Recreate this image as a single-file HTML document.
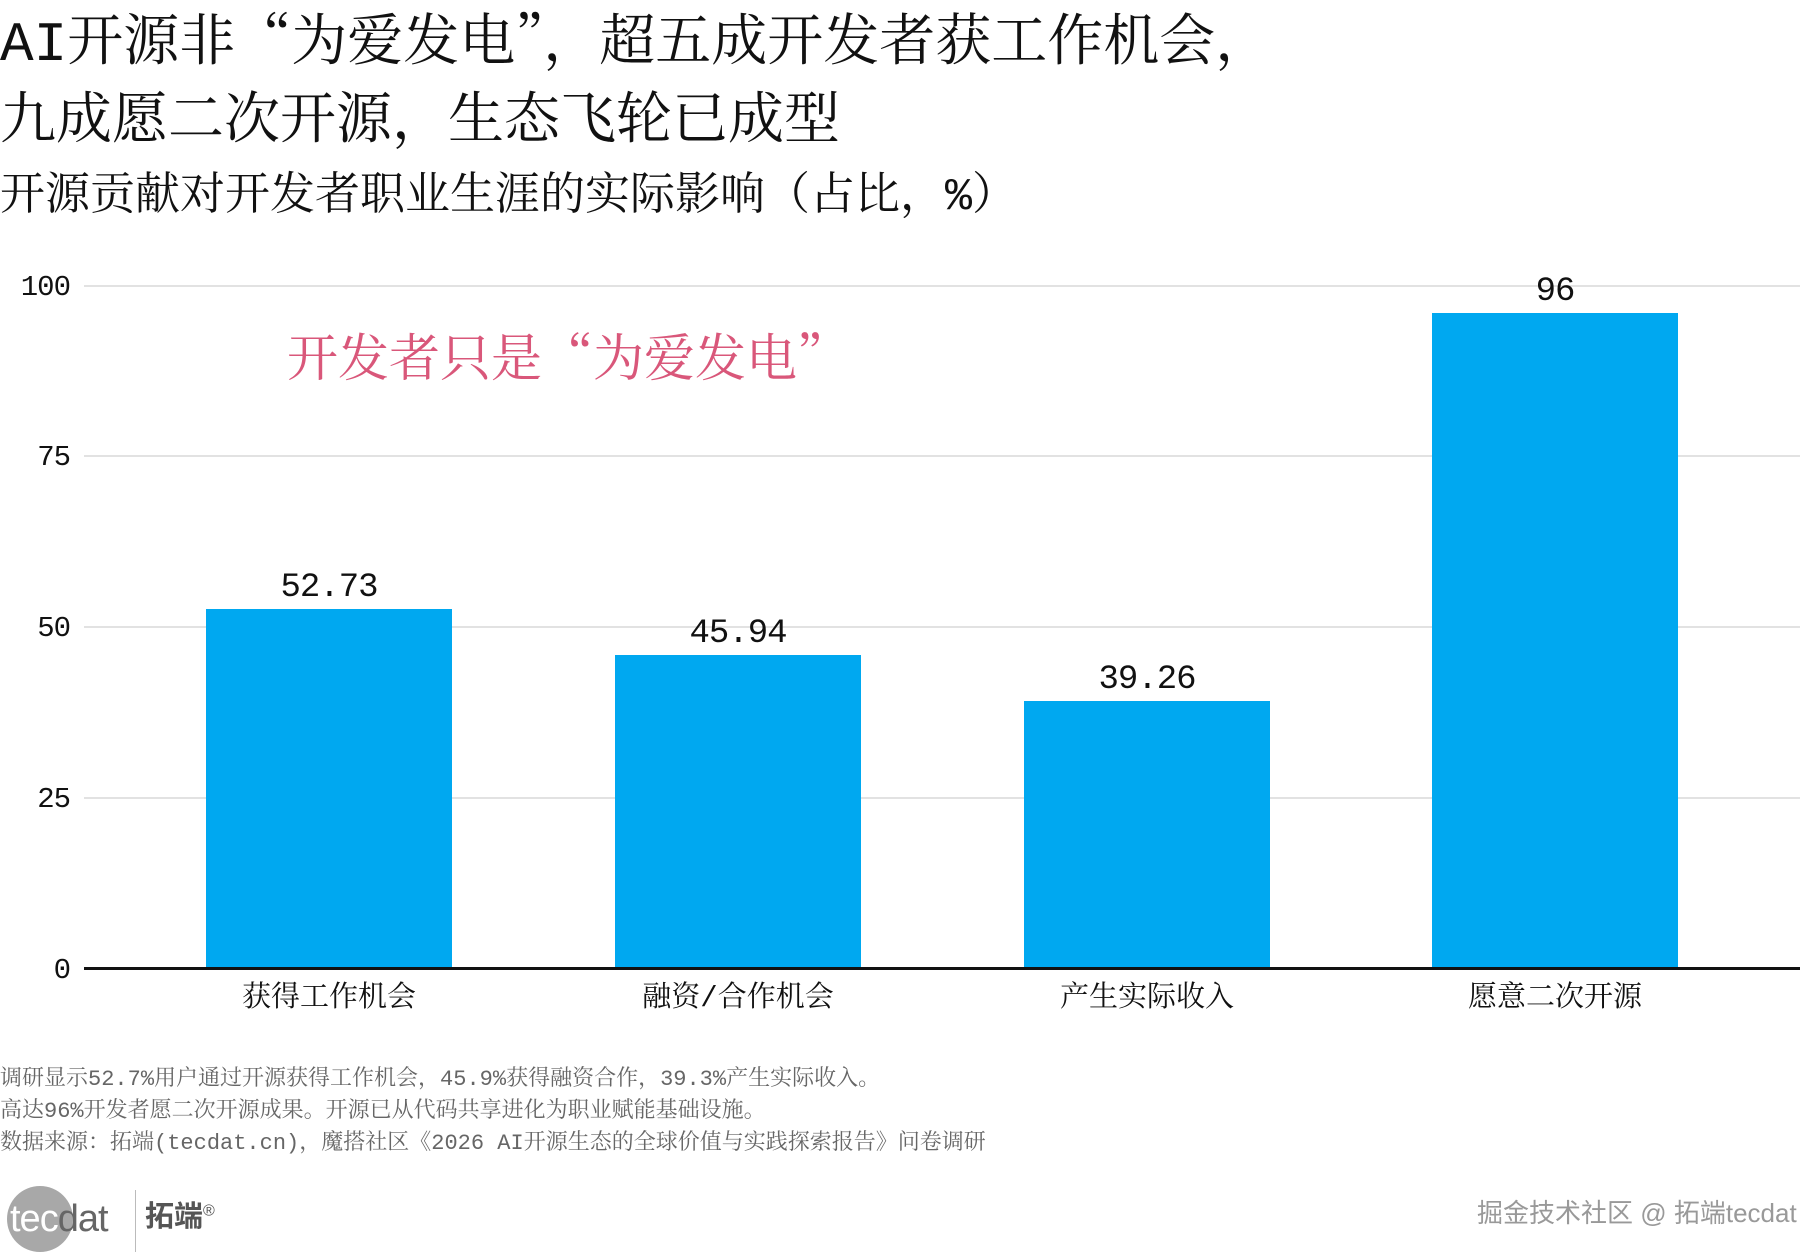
<!DOCTYPE html>
<html><head><meta charset="utf-8"><style>
body{margin:0;width:1800px;height:1260px;background:#fff;position:relative;overflow:hidden;font-family:"Noto Serif CJK SC","Liberation Serif",serif;color:#111}
.m{font-family:"Liberation Mono","Noto Serif CJK SC",monospace}
.a{position:absolute;white-space:nowrap}
.t{font-size:56px;line-height:1}
.g{position:absolute;left:84px;width:1716px;height:2px;background:#e2e2e2}
.yl{position:absolute;width:70px;left:0;text-align:right;font-size:29px;line-height:1;font-family:"Liberation Mono",monospace;letter-spacing:-1px}
.bar{position:absolute;width:246px;background:#00a8f0}
.v{position:absolute;width:246px;text-align:center;font-size:34px;line-height:1;font-family:"Liberation Mono",monospace;letter-spacing:-1px}
.c{position:absolute;width:300px;text-align:center;font-size:29px;line-height:1;top:980px}
.n{font-size:22px;color:#666;line-height:1}
</style></head><body>
<div class="a t" style="left:0;top:9px"><span class="m">AI</span>开源非“为爱发电”，超五成开发者获工作机会，</div>
<div class="a t" style="left:0;top:87px">九成愿二次开源，生态飞轮已成型</div>
<div class="a" style="left:0;top:167px;font-size:45px;line-height:1">开源贡献对开发者职业生涯的实际影响（占比，<span class="m">%</span>）</div>

<div class="g" style="top:285px"></div>
<div class="g" style="top:455px"></div>
<div class="g" style="top:626px"></div>
<div class="g" style="top:797px"></div>
<div class="yl" style="top:273px">100</div>
<div class="yl" style="top:443px">75</div>
<div class="yl" style="top:614px">50</div>
<div class="yl" style="top:785px">25</div>
<div class="yl" style="top:956px">0</div>

<div class="a" style="left:287px;top:329px;font-size:51px;color:#d9577a;line-height:1">开发者只是“为爱发电”</div>

<div class="bar" style="left:206px;top:609px;height:360px"></div>
<div class="bar" style="left:615px;top:655px;height:314px"></div>
<div class="bar" style="left:1024px;top:701px;height:268px"></div>
<div class="bar" style="left:1432px;top:313px;height:656px"></div>
<div class="v" style="left:206px;top:571px">52.73</div>
<div class="v" style="left:615px;top:617px">45.94</div>
<div class="v" style="left:1024px;top:663px">39.26</div>
<div class="v" style="left:1432px;top:275px">96</div>
<div style="position:absolute;left:84px;top:967px;width:1716px;height:3px;background:#111"></div>
<div class="c" style="left:179px">获得工作机会</div>
<div class="c" style="left:588px">融资<span class="m">/</span>合作机会</div>
<div class="c" style="left:997px">产生实际收入</div>
<div class="c" style="left:1405px">愿意二次开源</div>

<div class="a n" style="left:0;top:1066px">调研显示<span class="m">52.7%</span>用户通过开源获得工作机会，<span class="m">45.9%</span>获得融资合作，<span class="m">39.3%</span>产生实际收入。</div>
<div class="a n" style="left:0;top:1098px">高达<span class="m">96%</span>开发者愿二次开源成果。开源已从代码共享进化为职业赋能基础设施。</div>
<div class="a n" style="left:0;top:1130px">数据来源：拓端<span class="m">(tecdat.cn)</span>，魔搭社区《<span class="m">2026 AI</span>开源生态的全球价值与实践探索报告》问卷调研</div>

<div style="position:absolute;left:7px;top:1186px;width:66px;height:66px;border-radius:50%;background:#a8a8a8"></div>
<div class="a" style="left:10px;top:1200px;font-family:'Liberation Sans','DejaVu Sans',sans-serif;font-size:38px;line-height:1;letter-spacing:-1px"><span style="color:#fff">tec</span><span style="color:#666">dat</span></div>
<div style="position:absolute;left:135px;top:1190px;width:1px;height:62px;background:#bbb"></div>
<div class="a" style="left:145px;top:1203px;font-family:'Liberation Sans','Noto Sans CJK SC',sans-serif;font-weight:bold;font-size:29px;color:#555;line-height:1">拓端<sup style="font-size:16px;font-weight:normal">®</sup></div>
<div class="a" style="left:1477px;top:1200px;font-family:'Liberation Sans','Noto Sans CJK SC',sans-serif;font-size:26px;color:#999;line-height:1">掘金技术社区 @ 拓端tecdat</div>
</body></html>
